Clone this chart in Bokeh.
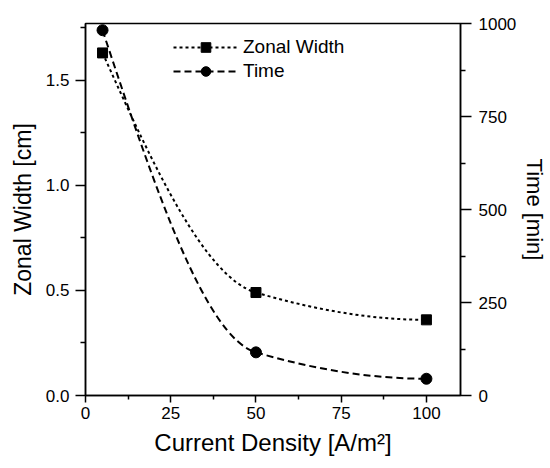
import numpy as np
from bokeh.plotting import figure
from bokeh.models import (Range1d, LinearAxis, FixedTicker, Legend, LegendItem,
                          NumeralTickFormatter, ColumnDataSource)
from bokeh.embed import file_html
from bokeh.resources import INLINE

# ---- data ----
current_density = [5, 50, 100]
zonal_width = [1.63, 0.49, 0.36]
time_min = [982, 116, 45]

x_ticks = [0, 25, 50, 75, 100]
x_minor = [12.5, 37.5, 62.5, 87.5]
zw_ticks = [0.0, 0.5, 1.0, 1.5]
zw_minor = [0.25, 0.75, 1.25, 1.75]
t_ticks = [0, 250, 500, 750, 1000]
t_minor = [125, 375, 625, 875]

FONT = "Liberation Sans"


def pchip_slopes(x, y):
    x = np.asarray(x, float)
    y = np.asarray(y, float)
    h = np.diff(x)
    d = np.diff(y) / h
    n = len(x)
    m = np.zeros(n)
    for k in range(1, n - 1):
        if d[k - 1] * d[k] > 0:
            w1 = 2 * h[k] + h[k - 1]
            w2 = h[k] + 2 * h[k - 1]
            m[k] = (w1 + w2) / (w1 / d[k - 1] + w2 / d[k])

    def end(h0, h1, d0, d1):
        s = ((2 * h0 + h1) * d0 - h0 * d1) / (h0 + h1)
        if np.sign(s) != np.sign(d0):
            return 0.0
        if np.sign(d0) != np.sign(d1) and abs(s) > 3 * abs(d0):
            return 3 * d0
        return s

    m[0] = end(h[0], h[1], d[0], d[1])
    m[-1] = end(h[-1], h[-2], d[-1], d[-2])
    return m


def bezier_source(x, y):
    x = np.asarray(x, float)
    y = np.asarray(y, float)
    m = pchip_slopes(x, y)
    h = np.diff(x)
    return ColumnDataSource(dict(
        x0=x[:-1], y0=y[:-1], x1=x[1:], y1=y[1:],
        cx0=x[:-1] + h / 3, cy0=y[:-1] + m[:-1] * h / 3,
        cx1=x[1:] - h / 3, cy1=y[1:] - m[1:] * h / 3,
    ))


p = figure(width=550, height=468,
           x_range=Range1d(0, 110), y_range=Range1d(0, 1.77),
           output_backend="svg", toolbar_location=None,
           min_border_left=85, min_border_right=87,
           min_border_top=23, min_border_bottom=73)
p.extra_y_ranges = {"time": Range1d(0, 1000)}
p.xgrid.visible = False
p.ygrid.visible = False
p.outline_line_color = "black"
p.outline_line_width = 1.5
p.background_fill_color = "white"
p.border_fill_color = "white"

right_axis = LinearAxis(y_range_name="time")
p.add_layout(right_axis, "right")

xa = p.xaxis[0]
ya = p.yaxis[0]
xa.ticker = FixedTicker(ticks=x_ticks, minor_ticks=x_minor)
ya.ticker = FixedTicker(ticks=zw_ticks, minor_ticks=zw_minor)
right_axis.ticker = FixedTicker(ticks=t_ticks, minor_ticks=t_minor)
ya.formatter = NumeralTickFormatter(format="0.0")
right_axis.formatter = NumeralTickFormatter(format="0")
xa.formatter = NumeralTickFormatter(format="0")

xa.axis_label = "Current Density [A/m²]"
ya.axis_label = "Zonal Width [cm]"
right_axis.axis_label = "Time [min]"

for ax in (xa, ya, right_axis):
    ax.axis_line_color = "black"
    ax.axis_line_width = 1.5
    ax.major_tick_line_color = "black"
    ax.major_tick_line_width = 1.5
    ax.minor_tick_line_color = "black"
    ax.minor_tick_line_width = 1.5
    ax.major_tick_in = 0
    ax.minor_tick_in = 0
    ax.major_tick_out = 10
    ax.minor_tick_out = 5
    ax.major_label_text_font = FONT
    ax.major_label_text_font_size = "17px"
    ax.major_label_text_color = "black"
    ax.axis_label_text_font = FONT
    ax.axis_label_text_font_size = "23px"
    ax.axis_label_text_font_style = "normal"
    ax.axis_label_text_color = "black"
    ax.major_label_standoff = 6
    ax.axis_label_standoff = 7

xa.axis_label_text_font_size = "24px"
xa.major_tick_out = 7
xa.minor_tick_out = 4
xa.major_label_standoff = 4
right_axis.axis_label_text_font_size = "22px"
right_axis.major_tick_out = 11
right_axis.major_label_standoff = 7
right_axis.axis_label_standoff = 3

# curves
zw_src = bezier_source(current_density, zonal_width)
t_src = bezier_source(current_density, time_min)
p.bezier(x0="x0", y0="y0", x1="x1", y1="y1", cx0="cx0", cy0="cy0",
         cx1="cx1", cy1="cy1", source=zw_src, line_color="black",
         line_width=2, line_dash="3 3")
p.bezier(x0="x0", y0="y0", x1="x1", y1="y1", cx0="cx0", cy0="cy0",
         cx1="cx1", cy1="cy1", source=t_src, line_color="black",
         line_width=2, line_dash="7 4", y_range_name="time")

zw_pts = p.scatter(current_density, zonal_width, marker="square", size=10,
                   fill_color="black", line_color="black")
t_pts = p.scatter(current_density, time_min, marker="circle", size=11,
                  fill_color="black", line_color="black", y_range_name="time")

# legend helpers: lines with a single undefined point, only for the legend glyph
zw_leg = p.line(x=[np.nan], y=[np.nan], line_color="black", line_width=2,
                line_dash="3 3")
t_leg = p.line(x=[np.nan], y=[np.nan], line_color="black", line_width=2,
               line_dash="7 4")

legend = Legend(items=[
    LegendItem(label="Zonal Width", renderers=[zw_leg, zw_pts]),
    LegendItem(label="Time", renderers=[t_leg, t_pts]),
], location=(88, 312))
legend.glyph_width = 65
legend.glyph_height = 24
legend.label_height = 24
legend.spacing = 0
legend.padding = 0
legend.margin = 0
legend.label_standoff = 5
legend.label_text_font = FONT
legend.label_text_font_size = "19px"
legend.label_text_color = "black"
legend.border_line_color = None
legend.background_fill_alpha = 0
p.add_layout(legend)

open("out.html", "w").write(file_html(p, INLINE))
